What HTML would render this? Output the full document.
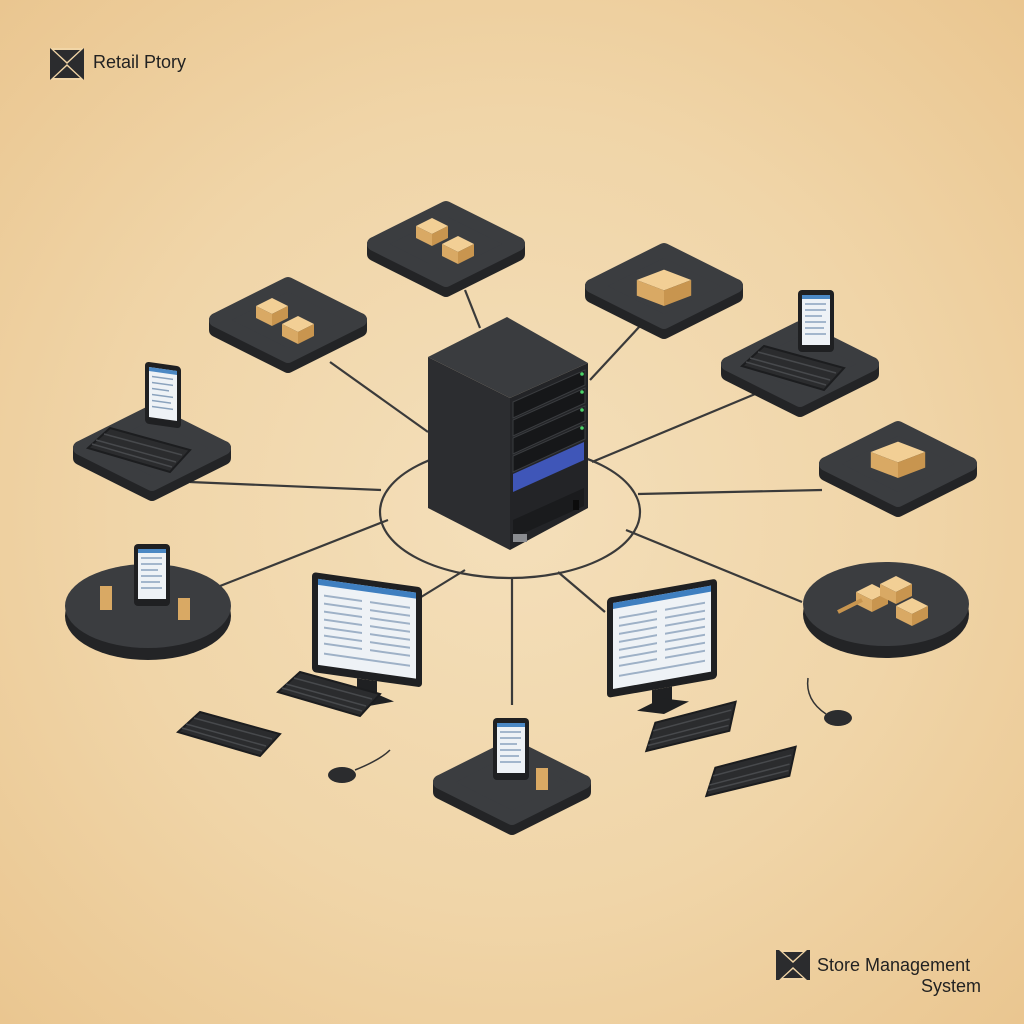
<!DOCTYPE html>
<html><head><meta charset="utf-8"><style>
html,body{margin:0;padding:0}
body{width:1024px;height:1024px;overflow:hidden;background:radial-gradient(ellipse at 50% 50%,#f4dfba 0%,#f0d5a8 55%,#eac690 100%);font-family:"Liberation Sans",sans-serif}
svg{position:absolute;left:0;top:0}
</style></head><body>
<svg width="1024" height="1024" viewBox="0 0 1024 1024">
<defs>
<g id="slab">
  <path d="M-72 10 L0 46 L72 10 L72 0 L0 36 L-72 0 Z" fill="#232426" stroke="#232426" stroke-width="14" stroke-linejoin="round"/>
  <path d="M-72 0 L0 -36 L72 0 L0 36 Z" fill="#3b3d40" stroke="#3b3d40" stroke-width="14" stroke-linejoin="round"/>
</g>
<g id="disc">
  <ellipse cx="0" cy="10" rx="83" ry="44" fill="#232426"/>
  <ellipse cx="0" cy="0" rx="83" ry="42" fill="#3b3d40"/>
</g>
<g id="box">
  <path d="M-16 0 L0 -8 L16 0 L0 8 Z" fill="#f2cf95"/>
  <path d="M-16 0 L0 8 L0 20 L-16 12 Z" fill="#d9a964"/>
  <path d="M16 0 L0 8 L0 20 L16 12 Z" fill="#c8954f"/>
</g>
<g id="tablet">
  <rect x="-18" y="-32" width="36" height="62" rx="4" fill="#1f2022"/>
  <rect x="-14" y="-27" width="28" height="50" fill="#eef2f6"/>
  <rect x="-14" y="-27" width="28" height="4" fill="#4b88c4"/>
  <g stroke="#8aa2bd" stroke-width="1.5"><line x1="-11" y1="-18" x2="10" y2="-18"/><line x1="-11" y1="-12" x2="10" y2="-12"/><line x1="-11" y1="-6" x2="6" y2="-6"/><line x1="-11" y1="0" x2="10" y2="0"/><line x1="-11" y1="6" x2="8" y2="6"/><line x1="-11" y1="12" x2="10" y2="12"/></g>
</g>
<g id="kb">
  <path d="M0 0 L80 22 L60 44 L-22 20 Z" fill="#2b2c2e" stroke="#1c1d1f" stroke-width="2"/>
  <g stroke="#47494c" stroke-width="1.5"><line x1="-14" y1="12" x2="66" y2="34"/><line x1="-6" y1="6" x2="72" y2="27"/><line x1="-18" y1="16" x2="62" y2="39"/></g>
</g>
<g id="monitor">
  <rect x="0" y="0" width="110" height="100" rx="4" fill="#1f2022"/>
  <rect x="6" y="6" width="98" height="86" fill="#eef2f6"/>
  <rect x="6" y="6" width="98" height="6" fill="#3f7fc0"/>
  <g stroke="#9eb1c7" stroke-width="2"><line x1="12" y1="22" x2="50" y2="22"/><line x1="12" y1="30" x2="50" y2="30"/><line x1="12" y1="38" x2="50" y2="38"/><line x1="12" y1="46" x2="50" y2="46"/><line x1="12" y1="54" x2="50" y2="54"/><line x1="12" y1="62" x2="50" y2="62"/><line x1="12" y1="70" x2="50" y2="70"/><line x1="58" y1="22" x2="98" y2="22"/><line x1="58" y1="30" x2="98" y2="30"/><line x1="58" y1="38" x2="98" y2="38"/><line x1="58" y1="46" x2="98" y2="46"/><line x1="58" y1="54" x2="98" y2="54"/><line x1="58" y1="62" x2="98" y2="62"/><line x1="58" y1="70" x2="98" y2="70"/><line x1="12" y1="80" x2="98" y2="80"/></g>
  <rect x="45" y="100" width="20" height="14" fill="#1f2022"/>
  <path d="M30 118 L55 110 L82 118 L57 126 Z" fill="#1f2022"/>
</g>
</defs>

<g stroke="#3a3a3a" stroke-width="2.2" fill="none">
  <ellipse cx="510" cy="512" rx="130" ry="66"/>
  <line x1="465" y1="290" x2="480" y2="328"/>
  <line x1="330" y1="362" x2="428" y2="432"/>
  <line x1="640" y1="326" x2="590" y2="380"/>
  <line x1="760" y1="392" x2="592" y2="462"/>
  <line x1="190" y1="482" x2="381" y2="490"/>
  <line x1="822" y1="490" x2="638" y2="494"/>
  <line x1="220" y1="586" x2="388" y2="520"/>
  <line x1="400" y1="610" x2="465" y2="570"/>
  <line x1="512" y1="705" x2="512" y2="578"/>
  <line x1="605" y1="612" x2="558" y2="572"/>
  <line x1="802" y1="602" x2="626" y2="530"/>
</g>

<use href="#slab" x="446" y="244"/>
<use href="#slab" x="288" y="320"/>
<use href="#slab" x="664" y="286"/>
<use href="#slab" x="800" y="364"/>
<use href="#slab" x="152" y="448"/>
<use href="#slab" x="898" y="464"/>
<use href="#disc" x="148" y="606"/>
<use href="#disc" x="886" y="604"/>
<use href="#slab" x="512" y="782"/>

<use href="#box" x="432" y="226"/><use href="#box" x="458" y="244"/>
<use href="#box" x="272" y="306"/><use href="#box" x="298" y="324"/>
<g transform="translate(664,280) scale(1.7,1.3)"><use href="#box"/></g>
<g transform="translate(898,452) scale(1.7,1.3)"><use href="#box"/></g>
<use href="#box" x="872" y="592"/><use href="#box" x="896" y="584"/><use href="#box" x="912" y="606"/>
<line x1="838" y1="612" x2="862" y2="600" stroke="#c8954f" stroke-width="4"/>
<use href="#tablet" x="816" y="322"/>
<use href="#kb" x="764" y="346"/>
<g transform="translate(163,396) skewY(8)"><use href="#tablet"/></g>
<use href="#kb" x="110" y="428"/>
<use href="#tablet" x="152" y="576"/>
<rect x="100" y="586" width="12" height="24" fill="#d9a964"/><rect x="178" y="598" width="12" height="22" fill="#d9a964"/>
<use href="#tablet" x="511" y="750"/>
<rect x="536" y="768" width="12" height="22" fill="#d9a964"/>

<g transform="translate(312,572) skewY(8)"><use href="#monitor"/></g>
<use href="#kb" x="300" y="672"/>
<use href="#kb" x="200" y="712"/>
<ellipse cx="342" cy="775" rx="14" ry="8" fill="#2b2c2e"/>
<path d="M355 770 Q380 760 390 750" stroke="#333" fill="none" stroke-width="1.5"/>
<g transform="translate(607,598) skewY(-10)"><use href="#monitor"/></g>
<use href="#kb" x="660" y="700" transform="rotate(-30 700 720)"/>
<use href="#kb" x="720" y="745" transform="rotate(-30 760 765)"/>
<ellipse cx="838" cy="718" rx="14" ry="8" fill="#2b2c2e"/>
<path d="M826 714 Q805 700 808 678" stroke="#333" fill="none" stroke-width="1.5"/>

<path d="M428 357 L510 398 L510 550 L428 508 Z" fill="#2c2d30"/>
<path d="M510 398 L588 363 L588 508 L510 550 Z" fill="#232427"/>
<path d="M428 357 L507 317 L588 363 L510 398 Z" fill="#3a3c3f"/>
<g fill="#161719" stroke="#3a3c3f" stroke-width="1">
<path d="M513 402 L585 370 L585 385 L513 418 Z"/>
<path d="M513 420 L585 388 L585 403 L513 436 Z"/>
<path d="M513 438 L585 406 L585 421 L513 454 Z"/>
<path d="M513 456 L585 424 L585 439 L513 472 Z"/>
</g>
<path d="M513 474 L584 442 L584 460 L513 492 Z" fill="#3f56b8"/>
<path d="M513 520 L584 488 L584 506 L513 538 Z" fill="#1a1b1d"/>
<g fill="#4cd36a"><circle cx="582" cy="374" r="1.8"/><circle cx="582" cy="392" r="1.8"/><circle cx="582" cy="410" r="1.8"/><circle cx="582" cy="428" r="1.8"/></g>
<rect x="513" y="534" width="14" height="8" fill="#8a8c90"/>
<rect x="573" y="500" width="6" height="10" fill="#0c0c0c"/>

<g transform="translate(50,48)">
  <rect width="34" height="32" fill="#2b2c2e"/>
  <path d="M0 0 L17 16 L34 0 Z M0 32 L17 16 L34 32 Z" fill="#f1d5a6"/>
  <path d="M4 2 L17 14 L30 2 Z M4 30 L17 18 L30 30 Z" fill="#2b2c2e"/>
</g>
<text x="93" y="68" font-size="18" fill="#222">Retail Ptory</text>
<g transform="translate(776,950)">
  <rect width="34" height="30" fill="#2b2c2e"/>
  <path d="M3 0 L17 13 L31 0 Z M3 30 L17 17 L31 30 Z" fill="#f1d5a6"/>
  <path d="M7 2 L17 11 L27 2 Z M7 28 L17 19 L27 28 Z" fill="#2b2c2e"/>
</g>
<text x="817" y="971" font-size="18" fill="#222">Store Management</text>
<text x="981" y="992" font-size="18" fill="#222" text-anchor="end">System</text>
</svg>
</body></html>
